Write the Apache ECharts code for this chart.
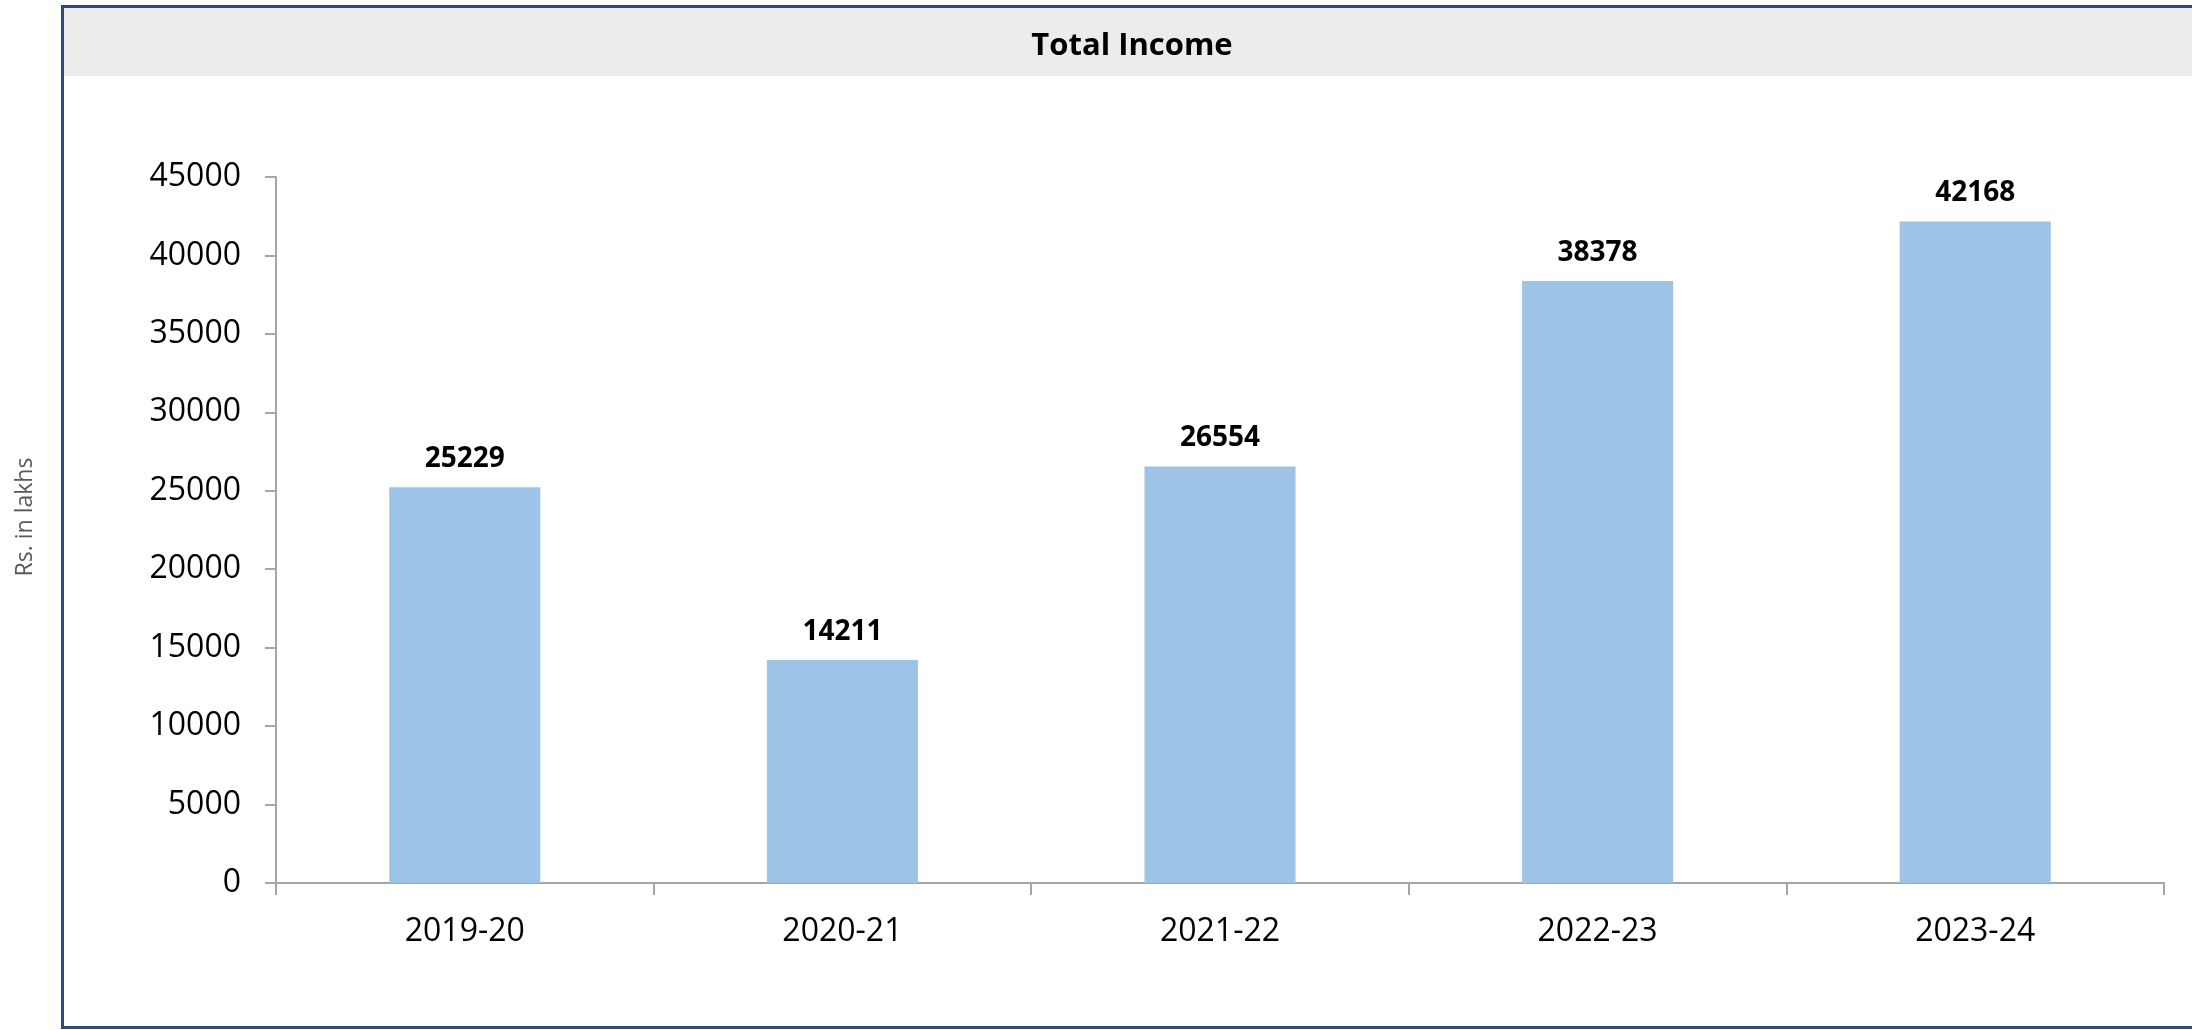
<!DOCTYPE html>
<html>
<head>
<meta charset="utf-8">
<script src="https://cdn.jsdelivr.net/npm/echarts@6/dist/echarts.min.js"></script>
<style>
html,body{margin:0;padding:0;background:#fff;}
#chart{width:2192px;height:1030px;}
</style>
</head>
<body>
<div id="chart"></div>
<script>
const categories = ['2019-20', '2020-21', '2021-22', '2022-23', '2023-24'];
const totalIncome = [25229, 14211, 26554, 38378, 42168];
const yTicks = { min: 0, max: 45000, interval: 5000 };
const titleText = 'Total Income';
const yAxisName = 'Rs. in lakhs';

const FONT = '"Open Sans", "Noto Sans", sans-serif';
const chart = echarts.init(document.getElementById('chart'));
chart.setOption({
  animation: false,
  backgroundColor: '#ffffff',
  title: {
    text: titleText,
    left: 1127,
    top: 41,
    textAlign: 'center',
    textVerticalAlign: 'middle',
    textStyle: { fontFamily: FONT, fontWeight: 'bold', fontSize: 31, color: '#000000' }
  },
  graphic: [
    { type: 'rect', z: -10, shape: { x: 64, y: 8, width: 2200, height: 68 }, style: { fill: '#ECECEC' } },
    { type: 'rect', z: -9, shape: { x: 62.5, y: 6.5, width: 2200, height: 1021 }, style: { fill: null, stroke: '#2F4B7C', lineWidth: 3 } },
    { type: 'text', x: 25, y: 517, rotation: Math.PI / 2,
      style: { text: yAxisName, fontFamily: FONT, fontSize: 23, fill: '#595959', align: 'center', verticalAlign: 'middle' } }
  ],
  grid: { left: 276, top: 177, right: 28, bottom: 147, containLabel: false, outerBoundsMode: 'none' },
  xAxis: {
    type: 'category',
    data: categories,
    axisLine: { lineStyle: { color: '#A6A6A6', width: 2 } },
    axisTick: { show: true, length: 12, lineStyle: { color: '#A6A6A6', width: 2 } },
    axisLabel: { margin: 33, fontFamily: FONT, fontSize: 32, color: '#000000' },
    splitLine: { show: false }
  },
  yAxis: {
    type: 'value',
    min: yTicks.min,
    max: yTicks.max,
    interval: yTicks.interval,
    axisLine: { show: true, lineStyle: { color: '#A6A6A6', width: 2 } },
    axisTick: { show: true, length: 11, lineStyle: { color: '#A6A6A6', width: 2 } },
    axisLabel: { margin: 35, fontFamily: FONT, fontSize: 32, color: '#000000', formatter: v => String(v) },
    splitLine: { show: false }
  },
  series: [{
    type: 'bar',
    data: totalIncome,
    barWidth: '40%',
    itemStyle: { color: '#9DC3E6' },
    label: {
      show: true,
      position: 'top',
      distance: 14,
      fontFamily: FONT,
      fontWeight: 'bold',
      fontSize: 28,
      color: '#000000'
    }
  }]
});
</script>
</body>
</html>
